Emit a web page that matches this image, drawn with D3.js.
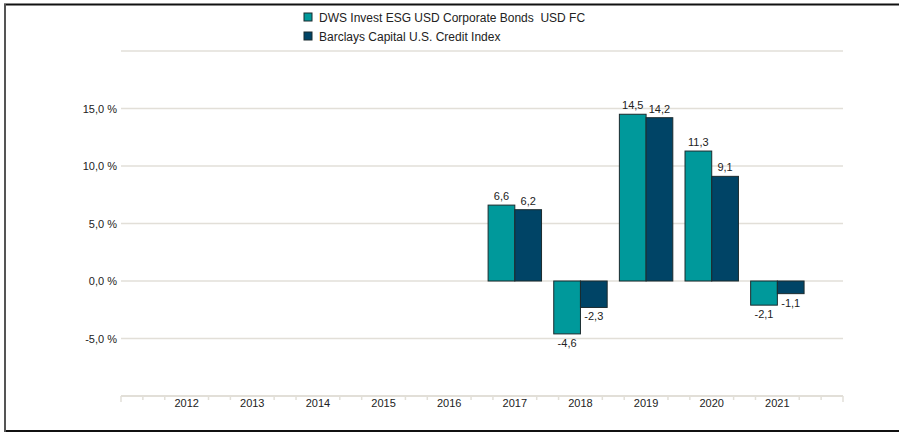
<!DOCTYPE html>
<html>
<head>
<meta charset="utf-8">
<script src="https://cdn.jsdelivr.net/npm/d3@7"></script>
<style>
  body { margin: 0; background: #fff; }
  svg { display: block; font-family: "Liberation Sans", Arial, sans-serif; }
</style>
</head>
<body>
<svg id="chart" width="899" height="433"></svg>
<script>
// data
const years = ["2012", "2013", "2014", "2015", "2016", "2017", "2018", "2019", "2020", "2021"];
const seriesNames = ["DWS Invest ESG USD Corporate Bonds  USD FC", "Barclays Capital U.S. Credit Index"];
const fundValues = [null, null, null, null, null, 6.6, -4.6, 14.5, 11.3, -2.1];
const indexValues = [null, null, null, null, null, 6.2, -2.3, 14.2, 9.1, -1.1];
const yTicks = [-5, 0, 5, 10, 15];
const gridTicks = [-5, 0, 5, 10, 15, 20];

const colors = ["#00999b", "#004466"];

const svg = d3.select("#chart");

// frame
svg.append("line").attr("x1", 4).attr("x2", 899).attr("y1", 4.5).attr("y2", 4.5)
  .attr("stroke", "#111").attr("stroke-width", 2);
svg.append("line").attr("x1", 4).attr("x2", 899).attr("y1", 431).attr("y2", 431)
  .attr("stroke", "#111").attr("stroke-width", 2);
svg.append("line").attr("x1", 5).attr("x2", 5).attr("y1", 4).attr("y2", 432)
  .attr("stroke", "#555").attr("stroke-width", 2);

var x = d3.scaleBand().domain(years).range([121, 843]).paddingOuter(0.5).paddingInner(0);
var y = d3.scaleLinear().domain([-10, 20]).range([396, 51]);

var step = x.step();
var barW = step * 0.407;

// comma decimals and plain hyphen minus, like the original
var fmt = v => d3.format(".1f")(v).replace(".", ",").replace("\u2212", "-");

// grid lines
svg.append("g").selectAll("line").data(gridTicks).enter().append("line")
  .attr("x1", 121).attr("x2", 843)
  .attr("y1", d => y(d)).attr("y2", d => y(d))
  .attr("stroke", "#e2dfd8").attr("stroke-width", 1.5);

// y labels
svg.append("g").selectAll("text").data(yTicks).enter().append("text")
  .attr("x", 117).attr("y", d => y(d) + 4)
  .attr("text-anchor", "end").attr("font-size", 11).attr("fill", "#222")
  .text(d => fmt(d) + " %");

// x axis line and small ticks
svg.append("line").attr("x1", 121).attr("x2", 843).attr("y1", y(-10)).attr("y2", y(-10))
  .attr("stroke", "#e2dfd8").attr("stroke-width", 2);
var minorTicks = d3.range(0, 34).filter(i => i % 3 !== 0 || i === 0 || i === 33);
svg.append("g").selectAll("line").data(minorTicks).enter().append("line")
  .attr("x1", i => 121 + i * step / 3).attr("x2", i => 121 + i * step / 3)
  .attr("y1", y(-10)).attr("y2", i => (i === 0 || i === 33) ? y(-10) + 6 : y(-10) + 4)
  .attr("stroke", "#e2dfd8").attr("stroke-width", 1.5);

svg.append("g").selectAll("text").data(years).enter().append("text")
  .attr("x", d => x(d) + step / 2).attr("y", 407)
  .attr("text-anchor", "middle").attr("font-size", 11).attr("fill", "#222")
  .text(d => d);

// bars
[fundValues, indexValues].forEach(function (vals, s) {
  var data = years.map((yr, i) => ({ year: yr, v: vals[i] })).filter(d => d.v !== null);
  var g = svg.append("g");
  g.selectAll("rect").data(data).enter().append("rect")
    .attr("x", d => x(d.year) + step / 2 - barW + s * barW)
    .attr("y", d => y(Math.max(0, d.v)))
    .attr("width", barW)
    .attr("height", d => Math.abs(y(d.v) - y(0)))
    .attr("fill", colors[s])
    .attr("stroke", "#1b2b2e").attr("stroke-width", 1);
  g.selectAll("text").data(data).enter().append("text")
    .attr("x", d => x(d.year) + step / 2 - barW / 2 + s * barW)
    .attr("y", d => d.v >= 0 ? y(d.v) - 5 : y(d.v) + 13)
    .attr("text-anchor", "middle").attr("font-size", 11).attr("fill", "#222")
    .text(d => fmt(d.v));
});

// legend
var leg = svg.append("g").selectAll("g").data(seriesNames).enter().append("g")
  .attr("transform", (d, i) => "translate(304," + (13 + i * 19) + ")");
leg.append("rect").attr("width", 8).attr("height", 8)
  .attr("fill", (d, i) => colors[i]).attr("stroke", "#1b2b2e").attr("stroke-width", 1);
leg.append("text").attr("x", 15).attr("y", 8.5).attr("font-size", 12).attr("fill", "#222")
  .style("white-space", "pre").text(d => d);
</script>
</body>
</html>
